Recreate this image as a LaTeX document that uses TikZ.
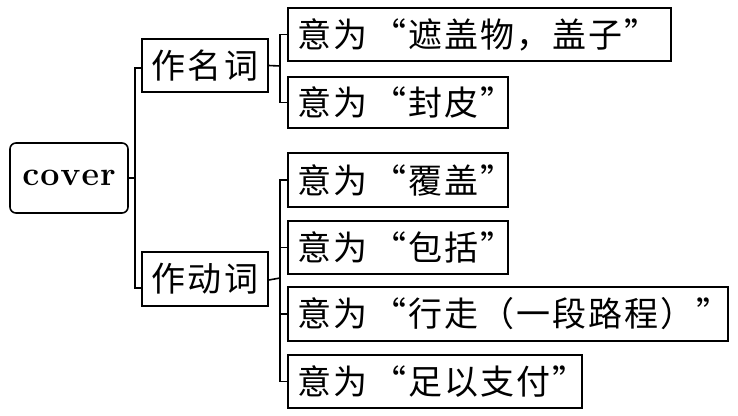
\documentclass[tikz,border=0pt]{standalone}
\usepackage{fontspec}
\newfontfamily\cjk[LetterSpace=6]{Noto Sans CJK SC}
\newcommand\mtext[2]{\makebox[#1][l]{#2}}
\begin{document}
\begin{tikzpicture}[x=1pt,y=-1pt,
  line width=1.6pt,
  boxbase/.style={draw, line width=1.6pt, inner xsep=9pt, inner ysep=0pt, anchor=center},
  catbox/.style={boxbase, font=\cjk\fontsize{34}{38}\selectfont, minimum width=126pt, minimum height=53pt, align=center},
  mbox/.style={boxbase, font=\cjk\fontsize{34}{38}\selectfont, minimum width=#1},
  rootbox/.style={draw, line width=1.6pt, rounded corners=6pt, minimum width=118pt, minimum height=70pt, inner sep=0pt, font=\bfseries\fontsize{34}{38}\selectfont}
]
\useasboundingbox (0,0) rectangle (738,415);
\node[rootbox] (cover) at (69,178) {c\kern1pt o\kern1pt v\kern1pt e\kern1pt r};
\node[catbox] (nm) at (205,65.5) {作名词};
\node[catbox, minimum height=54pt] (vb) at (205,279) {作动词};
\node[mbox=383pt, minimum height=53pt] (m1) at (479.5,34.5) {\mtext{365pt}{意为\hspace{5pt}“遮盖物，盖子”}};
\node[mbox=220pt, minimum height=51pt] (m2) at (398,102.5) {\mtext{202pt}{意为\hspace{5pt}“封皮”}};
\node[mbox=220pt, minimum height=54pt] (m3) at (398,180) {\mtext{202pt}{意为\hspace{5pt}“覆盖”}};
\node[mbox=220pt, minimum height=53pt] (m4) at (398,247.5) {\mtext{202pt}{意为\hspace{5pt}“包括”}};
\node[mbox=440pt, minimum height=54pt] (m5) at (508,314) {\mtext{422pt}{意为\hspace{5pt}“行走（一段路程）”}};
\node[mbox=294pt, minimum height=53pt] (m6) at (435,381.5) {\mtext{276pt}{意为\hspace{5pt}“足以支付”}};
\coordinate (j1) at (135,178);
\coordinate (j2) at (280,66);
\coordinate (j3) at (280,278);
\draw (cover.east) -- (j1);
\draw ([yshift=-2.5pt]nm.west) -| (j1) |- ([yshift=-9pt]vb.west);
\draw (nm.east) -- (j2);
\draw (m1.west) -| (j2) |- (m2.west);
\draw ([yshift=-1pt]vb.east) -- (j3);
\draw (m3.west) -| (j3) |- (m6.west);
\draw (m4.west) -- (m4.west -| j3);
\draw (m5.west) -- (m5.west -| j3);
\end{tikzpicture}
\end{document}
